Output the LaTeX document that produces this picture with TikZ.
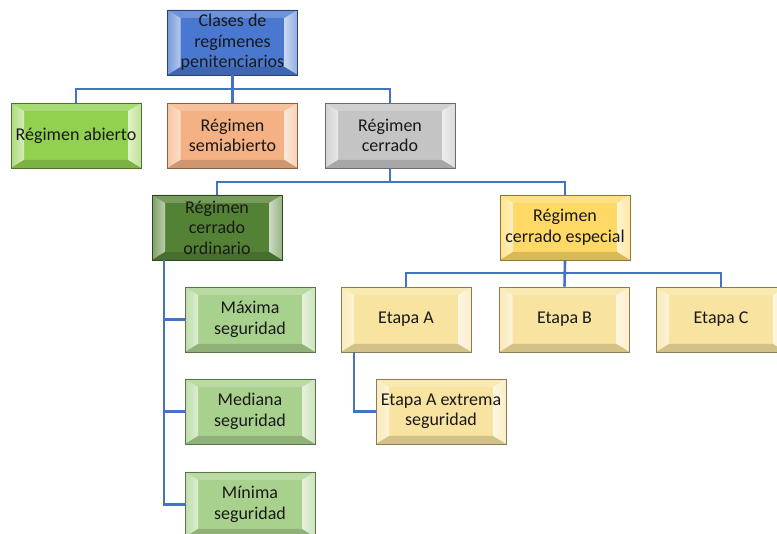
\documentclass[tikz,border=0pt]{standalone}
\usepackage{fontspec}
\setmainfont{Carlito}
\definecolor{cblue}{HTML}{4A78D0}
\definecolor{cgreen}{HTML}{92D050}
\definecolor{cpeach}{HTML}{F4B183}
\definecolor{cgray}{HTML}{C4C4C4}
\definecolor{cdgreen}{HTML}{548235}
\definecolor{cgold}{HTML}{FFD966}
\definecolor{cyel}{HTML}{F8E3A0}
\definecolor{clgreen}{HTML}{A9D18E}
\definecolor{cline}{HTML}{4472C4}
\tikzset{
  bev/.style={draw=#1!55!black, line width=0.7pt, fill=#1, minimum width=130pt,
    minimum height=65pt, inner sep=0pt, align=center,
    font=\fontsize{18}{20.5}\selectfont, text=black!90,
    path picture={
      \coordinate (nw) at (path picture bounding box.north west);
      \coordinate (ne) at (path picture bounding box.north east);
      \coordinate (sw) at (path picture bounding box.south west);
      \coordinate (se) at (path picture bounding box.south east);
      \fill[#1!80!white] (nw) -- (ne) -- ([shift={(-13pt,-8pt)}]ne) -- ([shift={(13pt,-8pt)}]nw) -- cycle;
      \shade[left color=#1!75!white, right color=#1!40!white] (nw) -- ([shift={(13pt,-8pt)}]nw) -- ([shift={(13pt,8pt)}]sw) -- (sw) -- cycle;
      \shade[left color=#1!30!white, right color=#1!60!white] (ne) -- ([shift={(-13pt,-8pt)}]ne) -- ([shift={(-13pt,8pt)}]se) -- (se) -- cycle;
      \fill[#1!85!black] (sw) -- (se) -- ([shift={(-13pt,8pt)}]se) -- ([shift={(13pt,8pt)}]sw) -- cycle;
    }},
  conn/.style={draw=cline, line width=2.6pt}
}
\begin{document}
\begin{tikzpicture}[x=1pt,y=-1pt]
\useasboundingbox (0,0) rectangle (777,534);
\clip (0,0) rectangle (777,534);
\coordinate (h1) at (232.5,89);
\coordinate (h2) at (390,182);
\coordinate (h3) at (564.5,273);
\node[bev=cblue] (top) at (232.5,42.5) {Clases de\\regímenes\\penitenciarios};
\node[bev=cgreen] (abierto) at (76,135.5) {Régimen abierto};
\node[bev=cpeach] (semi) at (232.5,135.5) {Régimen\\semiabierto};
\node[bev=cgray] (cerrado) at (390,135.5) {Régimen\\cerrado};
\node[bev=cdgreen] (ordinario) at (217,227.5) {Régimen\\cerrado\\ordinario};
\node[bev=cgold] (especial) at (565,227.5) {Régimen\\cerrado especial};
\node[bev=cyel] (etA) at (406,319.5) {Etapa A};
\node[bev=cyel] (etB) at (564.5,319.5) {Etapa B};
\node[bev=cyel] (etC) at (721,319.5) {Etapa C};
\node[bev=cyel] (extrema) at (441,411.5) {Etapa A extrema\\seguridad};
\node[bev=clgreen] (maxima) at (250,319.5) {Máxima\\seguridad};
\node[bev=clgreen] (mediana) at (250,411.5) {Mediana\\seguridad};
\node[bev=clgreen] (minima) at (250,504.5) {Mínima\\seguridad};
\draw[conn] (top.south) -- (semi.north);
\draw[conn] (top.south |- h1) -| (abierto.north);
\draw[conn] (top.south |- h1) -| (cerrado.north);
\draw[conn] (cerrado.south) -- (h2) -| (ordinario.north);
\draw[conn] (h2) -| (especial.north);
\draw[conn] (especial.south) -- (etB.north);
\draw[conn] (especial.south |- h3) -| (etA.north);
\draw[conn] (especial.south |- h3) -| (etC.north);
\draw[conn] ([xshift=-52pt]etA.south) |- (extrema.west);
\draw[conn] ([xshift=-53pt]ordinario.south) |- (maxima.west);
\draw[conn] ([xshift=-53pt]ordinario.south) |- (mediana.west);
\draw[conn] ([xshift=-53pt]ordinario.south) |- (minima.west);
\end{tikzpicture}
\end{document}
